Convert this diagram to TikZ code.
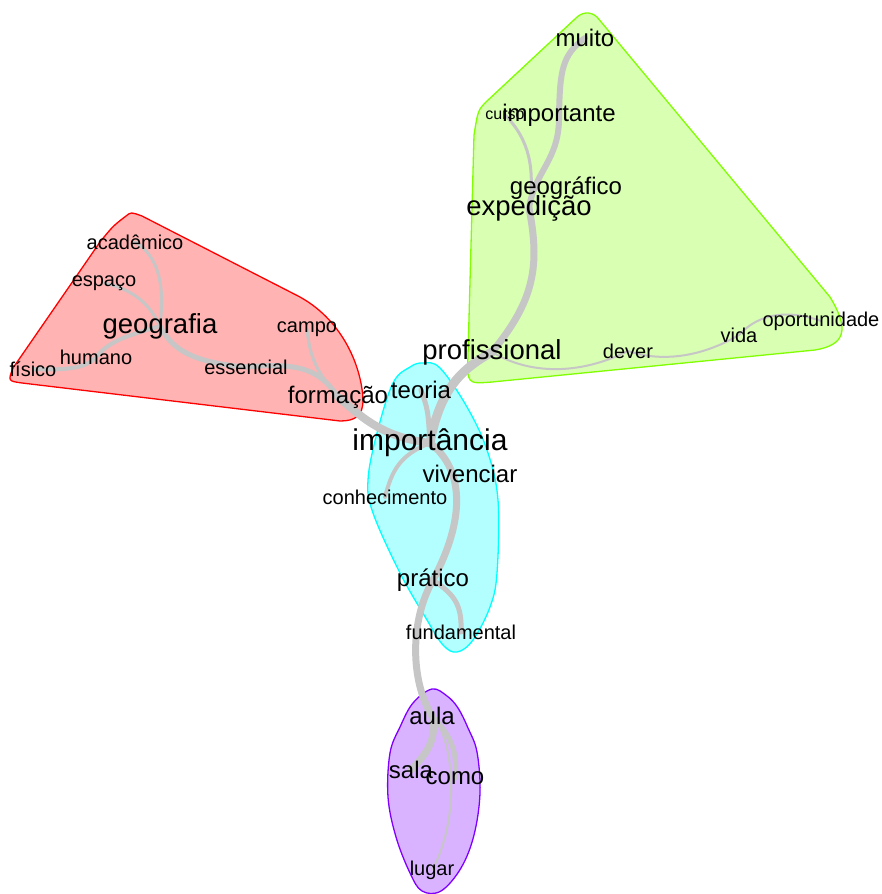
\documentclass[tikz,border=0pt]{standalone}
\usepackage{fontspec}
\setmainfont{Liberation Sans}
\pgfdeclarelayer{hulls}
\pgfdeclarelayer{links}
\pgfsetlayers{hulls,links,main}

\definecolor{linkgray}{RGB}{198,198,198}
\definecolor{redfill}{RGB}{255,179,179}
\definecolor{redline}{RGB}{255,0,0}
\definecolor{greenfill}{RGB}{217,255,179}
\definecolor{greenline}{RGB}{128,255,0}
\definecolor{cyanfill}{RGB}{179,255,255}
\definecolor{cyanline}{RGB}{0,255,255}
\definecolor{purplefill}{RGB}{217,179,255}
\definecolor{purpleline}{RGB}{128,0,255}

\tikzset{
  word/.style={inner sep=0pt, text=black},
  wtiny/.style={word, font=\fontsize{16}{16}\selectfont},
  wsmall/.style={word, font=\fontsize{20}{20}\selectfont},
  wmid/.style={word, font=\fontsize{24}{24}\selectfont},
  wbig/.style={word, font=\fontsize{27.5}{27.5}\selectfont},
  whuge/.style={word, font=\fontsize{30}{30}\selectfont},
  link/.style={draw=linkgray, line cap=round, line join=round},
  hull/.style={line width=1.3pt, line join=round},
}

\begin{document}
\begin{tikzpicture}[x=1pt,y=-1pt]
\useasboundingbox (0,0) rectangle (881,894);

% ---- words ----
% red community
\node[wsmall] (academico)  at (135,242) {acadêmico};
\node[wsmall] (espaco)     at (104,283) {espaço};
\node[wbig]   (geografia)  at (160,326) {geografia};
\node[wsmall] (campo)      at (307,329) {campo};
\node[wsmall] (humano)     at (96,357)  {humano};
\node[wsmall] (fisico)     at (33,369)  {físico};
\node[wsmall] (essencial)  at (246,367) {essencial};
\node[wmid]   (formacao)   at (338,397) {formação};
% green community
\node[wmid]   (muito)      at (585,38)  {muito};
\node[wtiny]  (curso)      at (505,115) {curso};
\node[wmid]   (importante) at (559,115) {importante};
\node[wmid]   (geografico) at (566,188) {geográfico};
\node[wbig]   (expedicao)  at (529,208) {expedição};
\node[wbig]   (profissional) at (492,352) {profissional};
\node[wsmall] (dever)      at (628,351) {dever};
\node[wsmall] (vida)       at (739,335) {vida};
\node[wsmall] (oportunidade) at (821,321) {oportunidade};
% cyan community
\node[wmid]   (teoria)     at (421,390) {teoria};
\node[whuge]  (importancia) at (430,443) {importância};
\node[wmid]   (vivenciar)  at (470,474) {vivenciar};
\node[wsmall] (conhecimento) at (385,497) {conhecimento};
\node[wmid]   (pratico)    at (433,580) {prático};
\node[wsmall] (fundamental) at (461,632) {fundamental};
% purple community
\node[wmid]   (aula)       at (432,716) {aula};
\node[wmid]   (sala)       at (411,770) {sala};
\node[wmid]   (como)       at (455,778) {como};
\node[wsmall] (lugar)      at (432,870) {lugar};

% ---- community hulls ----
\begin{pgfonlayer}{hulls}
  \filldraw[hull, fill=redfill, draw=redline]
    (126,216) .. controls (131,212) .. (142,216) -- (300,297)
    .. controls (345,322) and (362,370) .. (363,400)
    .. controls (363,416) and (355,421) .. (340,421) -- (22,383)
    .. controls (8,381) .. (13,368) -- (100,242)
    .. controls (113,226) .. cycle;
  \filldraw[hull, fill=greenfill, draw=greenline]
    (487,101) .. controls (478,110) .. (474,135) -- (468,355)
    .. controls (467,384) .. (492,382) -- (815,350)
    .. controls (845,345) and (850,330) .. (830,297) -- (597,17)
    .. controls (590,11) and (582,12) .. (576,18) -- cycle;
  \filldraw[hull, fill=cyanfill, draw=cyanline]
    plot[smooth cycle, tension=0.6] coordinates {
      (423,363) (440,368) (467,407) (487,450) (498,500) (497,573)
      (490,607) (473,640) (457,652) (443,645) (427,620) (400,573)
      (373,513) (368,480) (377,433) (393,383) (410,367)};
  \filldraw[hull, fill=purplefill, draw=purpleline]
    plot[smooth cycle, tension=0.6] coordinates {
      (432,689) (447,696) (458,708) (468,728) (477,752) (480,793)
      (474,835) (461,868) (441,891) (422,891) (410,873) (396,837)
      (388,797) (390,753) (400,727) (413,703)};
\end{pgfonlayer}

% ---- links ----
\begin{pgfonlayer}{links}
  % red community
  \draw[link, line width=3pt] (academico.center) .. controls (165,260) and (163,300) .. (geografia.center);
  \draw[link, line width=3pt] (espaco.center) .. controls (135,290) and (150,305) .. (geografia.center);
  \draw[link, line width=4pt] (geografia.center) .. controls (130,335) and (110,340) .. (humano.center);
  \draw[link, line width=4pt] (humano.center) .. controls (85,370) and (60,370) .. (fisico.center);
  \draw[link, line width=5pt] (geografia.center) .. controls (170,345) and (185,362) .. (essencial.center);
  \draw[link, line width=5pt] (essencial.center) .. controls (300,362) and (320,370) .. (formacao.center);
  \draw[link, line width=3pt] (campo.center) .. controls (310,362) and (320,375) .. (formacao.center);
  \draw[link, line width=8pt] (formacao.center) .. controls (360,415) and (380,437) .. (importancia.center);
  % green community
  \draw[link, line width=6pt] (muito.center) .. controls (562,55) and (560,70) .. (importante.center);
  \draw[link, line width=6pt] (importante.center) .. controls (560,160) and (535,170) .. (expedicao.center);
  \draw[link, line width=3pt] (curso.center) .. controls (530,140) and (535,170) .. (expedicao.center);
  \draw[link, line width=7pt] (expedicao.center) .. controls (540,265) and (535,300) .. (profissional.center);
  \draw[link, line width=2pt] (profissional.center) .. controls (530,375) and (580,375) .. (dever.center);
  \draw[link, line width=2pt] (dever.center) .. controls (660,362) and (700,358) .. (vida.center);
  \draw[link, line width=2pt] (vida.center) .. controls (760,312) and (790,310) .. (oportunidade.center);
  % cyan community
  \draw[link, line width=9pt] (profissional.center) .. controls (460,370) and (440,390) .. (importancia.center);
  \draw[link, line width=5pt] (teoria.center) .. controls (428,410) .. (importancia.center);
  \draw[link, line width=7pt] (importancia.center) .. controls (465,470) and (465,520) .. (pratico.center);
  \draw[link, line width=4pt] (importancia.center) .. controls (400,455) and (392,470) .. (conhecimento.center);
  \draw[link, line width=5pt] (pratico.center) .. controls (455,595) and (462,605) .. (fundamental.center);
  \draw[link, line width=7pt] (pratico.center) .. controls (410,620) and (410,680) .. (aula.center);
  % purple community
  \draw[link, line width=7pt] (aula.center) .. controls (438,740) and (425,755) .. (sala.center);
  \draw[link, line width=5pt] (aula.center) .. controls (450,735) and (458,750) .. (como.center);
  \draw[link, line width=2pt] (aula.center) .. controls (455,740) and (460,820) .. (lugar.center);
\end{pgfonlayer}
\end{tikzpicture}
\end{document}
